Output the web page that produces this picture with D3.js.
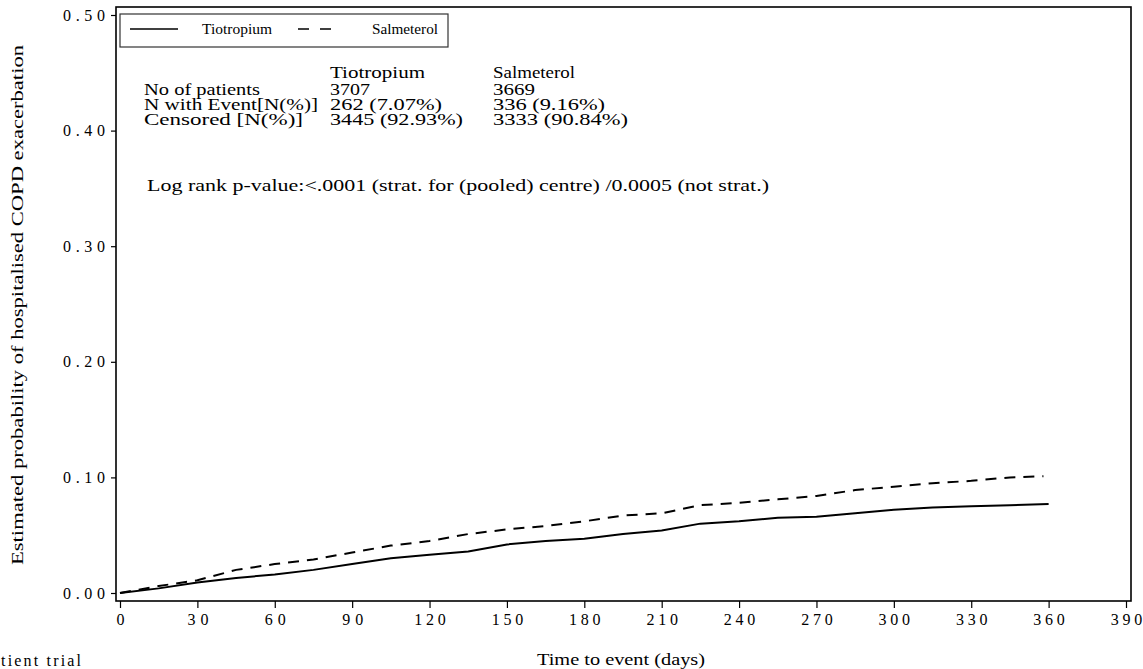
<!DOCTYPE html>
<html>
<head>
<meta charset="utf-8">
<script src="https://cdn.jsdelivr.net/npm/d3@7"></script>
<style>
  html, body { margin: 0; padding: 0; background: #fff; }
  svg { display: block; font-family: "Liberation Serif", "Times New Roman", Times, serif; }
  text { font-family: "Liberation Serif", "Times New Roman", Times, serif; fill: #000; }
</style>
</head>
<body>
<svg id="chart" width="1143" height="669"></svg>
<script>
// ---- data ----
const tioDays = [0, 15, 30, 45, 60, 75, 90, 105, 120, 135, 150, 165, 180, 195, 210, 225, 240, 255, 270, 285, 300, 315, 330, 345, 360];
const tioProb = [0, 0.004, 0.009, 0.013, 0.016, 0.020, 0.025, 0.030, 0.033, 0.036, 0.042, 0.045, 0.047, 0.051, 0.054, 0.060, 0.062, 0.065, 0.066, 0.069, 0.072, 0.074, 0.075, 0.076, 0.077];
const salDays = [0, 15, 30, 45, 60, 75, 90, 105, 120, 135, 150, 165, 180, 195, 210, 225, 240, 255, 270, 285, 300, 315, 330, 345, 358];
const salProb = [0, 0.006, 0.011, 0.020, 0.025, 0.029, 0.035, 0.041, 0.045, 0.051, 0.055, 0.058, 0.062, 0.067, 0.069, 0.076, 0.078, 0.081, 0.084, 0.089, 0.092, 0.095, 0.097, 0.100, 0.101];
const xTicks = [0, 30, 60, 90, 120, 150, 180, 210, 240, 270, 300, 330, 360, 390];
const yTicks = [0, 0.1, 0.2, 0.3, 0.4, 0.5];
const seriesNames = ["Tiotropium", "Salmeterol"];
const rowLabels = ["No of patients", "N with Event[N(%)]", "Censored [N(%)]"];
const tioStats = ["3707", "262 (7.07%)", "3445 (92.93%)"];
const salStats = ["3669", "336 (9.16%)", "3333 (90.84%)"];
const logRankText = "Log rank p-value:<.0001 (strat. for (pooled) centre) /0.0005 (not strat.)";
const yTitle = "Estimated probability of hospitalised COPD exacerbation";
const xTitle = "Time to event (days)";
const footText = "tient trial";

// ---- layout ----
const FONT = '"Liberation Serif", "Times New Roman", Times, serif';
const svg = d3.select("#chart");
const x = d3.scaleLinear().domain([0, 390]).range([120, 1126]);
const y = d3.scaleLinear().domain([0, 0.5]).range([593, 15]);
const frame = {x0: 116, x1: 1131, y0: 7, y1: 601};

// frame
svg.append("rect")
  .attr("x", frame.x0).attr("y", frame.y0)
  .attr("width", frame.x1 - frame.x0).attr("height", frame.y1 - frame.y0)
  .attr("fill", "none").attr("stroke", "#000").attr("stroke-width", 1.6);

// x axis
const xAxis = svg.append("g").attr("transform", `translate(0,${frame.y1})`)
  .call(d3.axisBottom(x).tickValues(xTicks).tickSize(7).tickPadding(6).tickFormat(d3.format("d")));
xAxis.attr("font-family", FONT).attr("font-size", 16);
xAxis.select(".domain").remove();
xAxis.selectAll(".tick line").attr("stroke", "#000").attr("stroke-width", 1.2);
xAxis.selectAll(".tick text")
  .attr("fill", "#000")
  .each(function(d) {
    const s = String(d);
    d3.select(this).attr("textLength", s.length * 10.5).attr("lengthAdjust", "spacing");
  });

// y axis
const yAxis = svg.append("g").attr("transform", `translate(${frame.x0},0)`)
  .call(d3.axisLeft(y).tickValues(yTicks).tickSize(5).tickPadding(6).tickFormat(d3.format(".2f")));
yAxis.attr("font-family", FONT).attr("font-size", 16);
yAxis.select(".domain").remove();
yAxis.selectAll(".tick line").attr("stroke", "#000").attr("stroke-width", 1.2);
yAxis.selectAll(".tick text")
  .attr("fill", "#000")
  .attr("textLength", 42).attr("lengthAdjust", "spacing");

// axis titles
svg.append("text")
  .attr("transform", "translate(23,305) rotate(-90)")
  .attr("text-anchor", "middle")
  .attr("font-size", 16)
  .attr("textLength", 520).attr("lengthAdjust", "spacingAndGlyphs")
  .text(yTitle);

svg.append("text")
  .attr("x", 621).attr("y", 665)
  .attr("text-anchor", "middle")
  .attr("font-size", 16)
  .attr("textLength", 168).attr("lengthAdjust", "spacingAndGlyphs")
  .text(xTitle);

svg.append("text")
  .attr("x", 1).attr("y", 666)
  .attr("font-size", 16)
  .attr("textLength", 80).attr("lengthAdjust", "spacing")
  .text(footText);

// curves
const line = d3.line().x(d => x(d[0])).y(d => y(d[1])).curve(d3.curveLinear);
const tioData = tioDays.map((d, i) => [d, tioProb[i]]);
const salData = salDays.map((d, i) => [d, salProb[i]]);

svg.append("path").datum(salData)
  .attr("d", line).attr("fill", "none").attr("stroke", "#000")
  .attr("stroke-width", 2).attr("stroke-dasharray", "11,8");
svg.append("path").datum(tioData)
  .attr("d", line).attr("fill", "none").attr("stroke", "#000")
  .attr("stroke-width", 2);

// legend
const lg = svg.append("g");
lg.append("rect").attr("x", 120).attr("y", 14).attr("width", 328).attr("height", 33)
  .attr("fill", "#fff").attr("stroke", "#333").attr("stroke-width", 1.2);
lg.append("line").attr("x1", 130).attr("x2", 178).attr("y1", 29).attr("y2", 29)
  .attr("stroke", "#000").attr("stroke-width", 1.6);
lg.append("line").attr("x1", 298).attr("x2", 332).attr("y1", 29).attr("y2", 29)
  .attr("stroke", "#000").attr("stroke-width", 1.6).attr("stroke-dasharray", "11,11");
lg.append("text").attr("x", 202).attr("y", 34).attr("font-size", 14)
  .attr("textLength", 70).attr("lengthAdjust", "spacingAndGlyphs").text(seriesNames[0]);
lg.append("text").attr("x", 372).attr("y", 34).attr("font-size", 14)
  .attr("textLength", 66).attr("lengthAdjust", "spacingAndGlyphs").text(seriesNames[1]);

// stats block
const col0 = 144, col1 = 330, col2 = 493;
const rowY = [95, 110, 125];
const lenLabel = [116, 174, 159];
const lenTio = [40, 112, 133];
const lenSal = [42, 112, 135];
svg.append("text").attr("x", col1).attr("y", 78).attr("font-size", 16)
  .attr("textLength", 95).attr("lengthAdjust", "spacingAndGlyphs").text(seriesNames[0]);
svg.append("text").attr("x", col2).attr("y", 78).attr("font-size", 16)
  .attr("textLength", 82).attr("lengthAdjust", "spacingAndGlyphs").text(seriesNames[1]);
rowLabels.forEach((r, i) => {
  svg.append("text").attr("x", col0).attr("y", rowY[i]).attr("font-size", 16)
    .attr("textLength", lenLabel[i]).attr("lengthAdjust", "spacingAndGlyphs").text(r);
  svg.append("text").attr("x", col1).attr("y", rowY[i]).attr("font-size", 16)
    .attr("textLength", lenTio[i]).attr("lengthAdjust", "spacingAndGlyphs").text(tioStats[i]);
  svg.append("text").attr("x", col2).attr("y", rowY[i]).attr("font-size", 16)
    .attr("textLength", lenSal[i]).attr("lengthAdjust", "spacingAndGlyphs").text(salStats[i]);
});

svg.append("text").attr("x", 147).attr("y", 191).attr("font-size", 16)
  .attr("textLength", 622).attr("lengthAdjust", "spacingAndGlyphs").text(logRankText);
</script>
</body>
</html>
